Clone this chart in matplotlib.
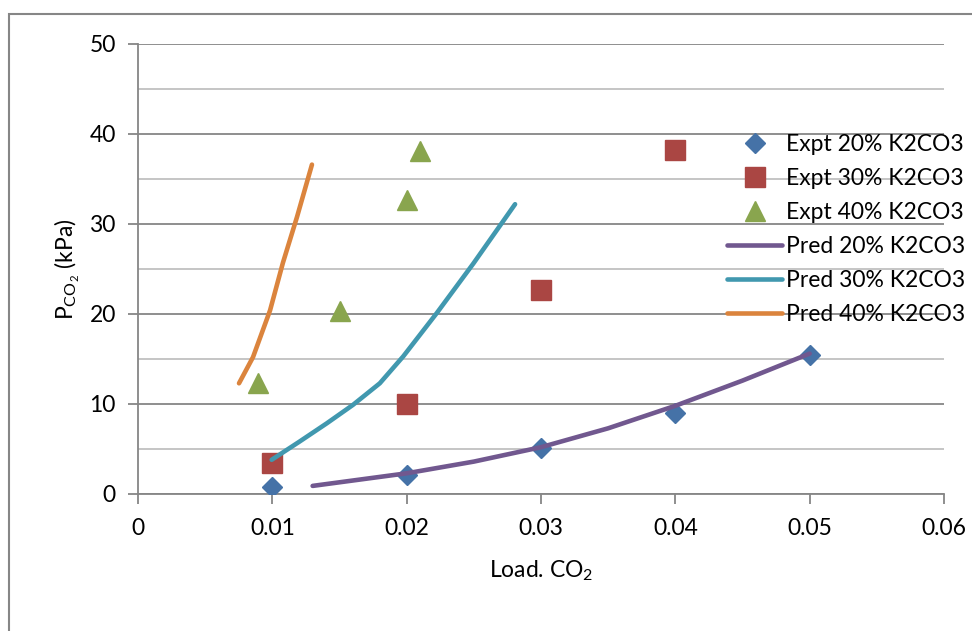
import matplotlib
matplotlib.use("Agg")
import matplotlib.pyplot as plt
from matplotlib.patches import Rectangle

plt.rcParams['font.family'] = ['Lato', 'DejaVu Sans']
plt.rcParams['mathtext.fontset'] = 'custom'
plt.rcParams['mathtext.rm'] = 'Lato'
plt.rcParams['mathtext.it'] = 'Lato'

# Experimental data
expt20_x = [0.01, 0.02, 0.03, 0.04, 0.05]
expt20_y = [0.8, 2.1, 5.1, 9.0, 15.5]
expt30_x = [0.01, 0.02, 0.03, 0.04]
expt30_y = [3.5, 10.0, 22.7, 38.2]
expt40_x = [0.0089, 0.015, 0.020, 0.021]
expt40_y = [12.3, 20.3, 32.7, 38.1]

# Predicted curves
pred20_x = [0.013, 0.016, 0.02, 0.025, 0.03, 0.035, 0.04, 0.045, 0.05]
pred20_y = [0.9, 1.5, 2.3, 3.6, 5.2, 7.3, 9.8, 12.6, 15.6]
pred30_x = [0.00995, 0.0120, 0.01405, 0.0160, 0.0180, 0.01975, 0.02224, 0.02496, 0.02807]
pred30_y = [3.8, 5.8, 7.85, 9.9, 12.3, 15.3, 20.1, 25.6, 32.2]
pred40_x = [0.00752, 0.00856, 0.00983, 0.01079, 0.01184, 0.01295]
pred40_y = [12.3, 15.2, 20.4, 25.7, 30.8, 36.6]

labels = ["Expt 20% K2CO3", "Expt 30% K2CO3", "Expt 40% K2CO3",
          "Pred 20% K2CO3", "Pred 30% K2CO3", "Pred 40% K2CO3"]
colors = ["#4572A7", "#AA4643", "#89A54E", "#71588F", "#4198AF", "#DB843D"]

W, H = 972, 631
fig = plt.figure(figsize=(W / 100, H / 100), dpi=100)
fig.patches.append(Rectangle((9 / W, -0.1), 1.2, (H - 14) / H + 0.1,
                             transform=fig.transFigure, fill=False,
                             edgecolor="#868686", linewidth=1.5))
ax = fig.add_axes([138 / W, (H - 494) / H, (944 - 138) / W, (494 - 44) / H])

ax.plot(expt20_x, expt20_y, 'D', color=colors[0], markersize=10, linestyle='none', label=labels[0], zorder=3)
ax.plot(expt30_x, expt30_y, 's', color=colors[1], markersize=14, linestyle='none', label=labels[1], zorder=3)
ax.plot(expt40_x, expt40_y, '^', color=colors[2], markersize=14, linestyle='none', label=labels[2], zorder=3)
ax.plot(pred20_x, pred20_y, '-', color=colors[3], linewidth=3.3, solid_capstyle='round', solid_joinstyle='round', label=labels[3], zorder=4)
ax.plot(pred30_x, pred30_y, '-', color=colors[4], linewidth=3.3, solid_capstyle='round', solid_joinstyle='round', label=labels[4], zorder=4)
ax.plot(pred40_x, pred40_y, '-', color=colors[5], linewidth=3.3, solid_capstyle='round', solid_joinstyle='round', label=labels[5], zorder=4)

ax.set_xlim(0, 0.06)
ax.set_ylim(0, 50)
ax.set_xticks([0, 0.01, 0.02, 0.03, 0.04, 0.05, 0.06])
ax.set_xticklabels(["0", "0.01", "0.02", "0.03", "0.04", "0.05", "0.06"])
ax.set_yticks([0, 10, 20, 30, 40, 50])
ax.set_yticks([5, 15, 25, 35, 45], minor=True)
ax.grid(True, which='major', axis='y', color='#868686', linewidth=1.3)
ax.grid(True, which='minor', axis='y', color='#C0C0C0', linewidth=1.3)
ax.set_axisbelow(True)
for s in ['top', 'right']:
    ax.spines[s].set_visible(False)
for s in ['left', 'bottom']:
    ax.spines[s].set_color('#868686')
    ax.spines[s].set_linewidth(1.3)
ax.tick_params(axis='both', which='major', direction='out', length=7, width=1.3,
               color='#868686', labelsize=16.5)
ax.tick_params(axis='y', which='minor', length=0)
ax.tick_params(axis='x', pad=10)
ax.tick_params(axis='y', pad=9)

ax.set_xlabel(r"Load. CO$_\mathregular{2}$", fontsize=16.5, labelpad=14)
ax.set_ylabel(r"P$_\mathregular{CO}$$_{_\mathregular{2}}$ (kPa)", fontsize=16.5, labelpad=5)

leg = fig.legend(*ax.get_legend_handles_labels(), loc='upper left',
                 bbox_to_anchor=(727 / W, 1 - 134 / H), bbox_transform=fig.transFigure,
                 frameon=False, fontsize=16.5, handlelength=2.4, handletextpad=0.17,
                 labelspacing=0.57, borderaxespad=0, borderpad=0)

fig.savefig("out.png", dpi=100)
